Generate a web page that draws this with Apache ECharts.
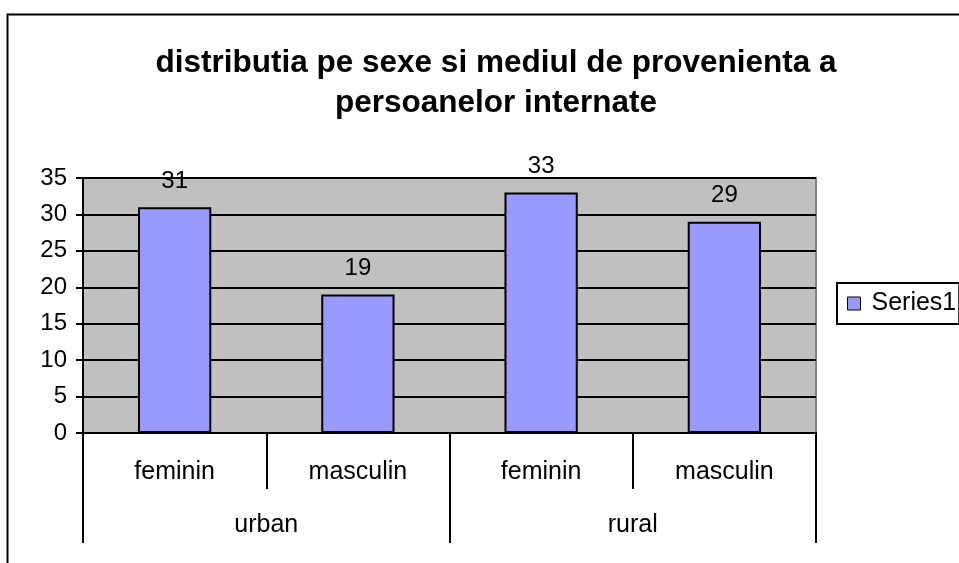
<!DOCTYPE html>
<html>
<head>
<meta charset="utf-8">
<script src="https://cdn.jsdelivr.net/npm/echarts@6/dist/echarts.min.js"></script>
<style>html,body{margin:0;padding:0;background:#fff}#c{width:959px;height:563px}</style>
</head>
<body>
<div id="c"></div>
<script>
var titleText = 'distributia pe sexe si mediul de provenienta a\npersoanelor internate';
var categories = ['feminin', 'masculin', 'feminin', 'masculin'];
var groups = ['urban', 'rural'];
var seriesName = 'Series1';
var values = [31, 19, 33, 29];
var yTicks = { min: 0, max: 35, interval: 5 };

var FONT = "Arial, 'Liberation Sans', sans-serif";
var chart = echarts.init(document.getElementById('c'));
chart.setOption({
  animation: false,
  textStyle: { fontFamily: FONT },
  title: {
    text: titleText,
    left: 491, top: 38, textAlign: 'center',
    textStyle: { fontFamily: FONT, fontSize: 31.5, fontWeight: 'bold', color: '#000', lineHeight: 40 }
  },
  graphic: [{
    type: 'rect', left: 5, top: 12, z: 100,
    shape: { width: 1000, height: 620 },
    style: { fill: 'none', stroke: '#000', lineWidth: 2 }
  }],
  legend: {
    left: 837, top: 283,
    orient: 'vertical',
    data: [seriesName],
    icon: 'rect', itemWidth: 13, itemHeight: 13,
    borderColor: '#000', borderWidth: 2,
    padding: [8, 3, 8, 10],
    itemStyle: { borderColor: '#000', borderWidth: 1 },
    textStyle: { fontFamily: FONT, fontSize: 25, color: '#000', padding: [0, 0, 0, 6] }
  },
  grid: {
    left: 83, right: 143, top: 178, bottom: 130,
    show: true, backgroundColor: '#C0C0C0', borderColor: '#808080', borderWidth: 2,
    containLabel: false
  },
  xAxis: [{
    type: 'category', data: categories, position: 'bottom',
    axisLine: { lineStyle: { color: '#000', width: 2 } },
    axisTick: { show: true, length: 56, interval: 0, lineStyle: { color: '#000', width: 2 } },
    axisLabel: { interval: 0, margin: 27, fontSize: 25, color: '#000', fontFamily: FONT },
    splitLine: { show: false }
  }, {
    type: 'category', data: groups, position: 'bottom', gridIndex: 0,
    axisLine: { show: false },
    axisTick: { show: true, length: 110, interval: 0, lineStyle: { color: '#000', width: 2 } },
    axisLabel: { interval: 0, margin: 80, fontSize: 25, color: '#000', fontFamily: FONT },
    splitLine: { show: false }
  }],
  yAxis: {
    type: 'value', min: yTicks.min, max: yTicks.max, interval: yTicks.interval,
    axisLine: { show: true, lineStyle: { color: '#000', width: 2 } },
    axisTick: { show: true, length: 7, lineStyle: { color: '#000', width: 2 } },
    axisLabel: { margin: 16, fontSize: 24, color: '#000', fontFamily: FONT },
    splitLine: { show: true, lineStyle: { color: '#000', width: 2 } }
  },
  series: [{
    name: seriesName, type: 'bar', data: values, xAxisIndex: 0,
    barWidth: '40%',
    itemStyle: { color: '#9999FF', borderColor: '#000', borderWidth: 2 },
    label: { show: true, position: 'top', distance: 14, fontSize: 24, color: '#000', fontFamily: FONT }
  }]
});
</script>
</body>
</html>
